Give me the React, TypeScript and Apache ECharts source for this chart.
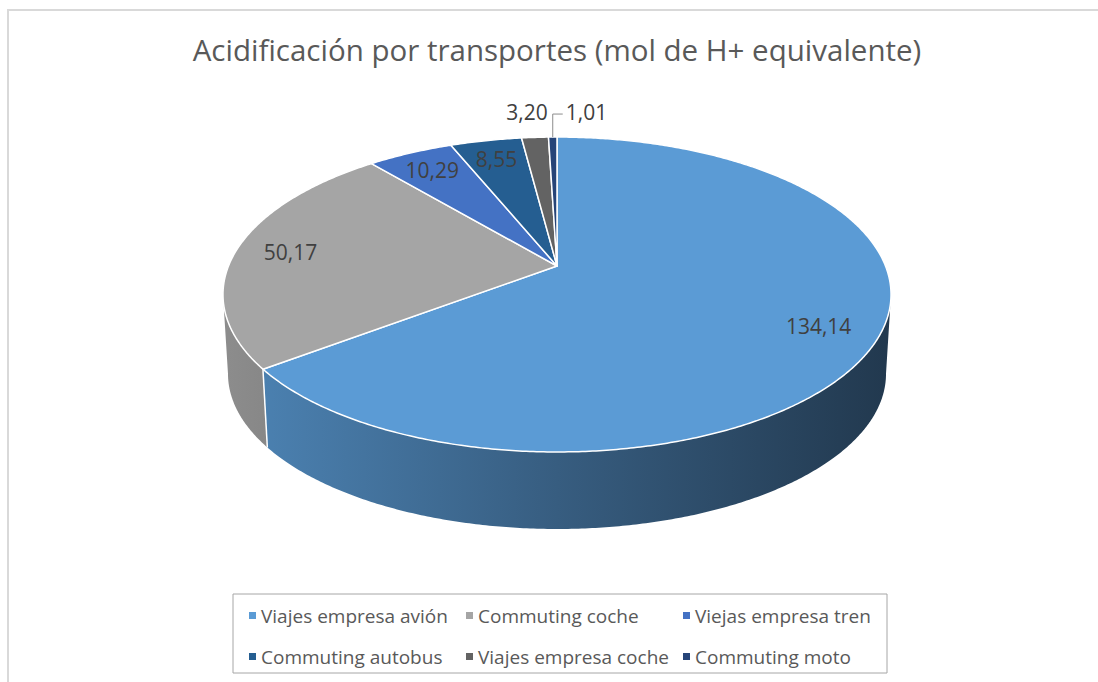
import React, { useEffect, useRef } from 'react';
import * as echarts from 'echarts';

const TITLE = 'Acidificación por transportes (mol de H+ equivalente)';
const CATEGORIES = [
  'Viajes empresa avión',
  'Commuting coche',
  'Viejas empresa tren',
  'Commuting autobus',
  'Viajes empresa coche',
  'Commuting moto',
];
const VALUES = [134.14, 50.17, 10.29, 8.55, 3.2, 1.01];
const COLORS = ['#5B9BD5', '#A5A5A5', '#4472C4', '#255E91', '#636363', '#264478'];

const FONT = '"Open Sans", "Noto Sans", sans-serif';

// 3D pie geometry (perspective-projected disk)
const CX = 557;
const CY = 266;
const RX = 328.5;
const RY = 152.3;
const PERSP = 0.181;
const BOTTOM_SCALE = 0.985;
const DEPTH = 79.8;
const LABEL_R = 0.83;

const TOTAL = VALUES.reduce((a, b) => a + b, 0);
const STARTS = VALUES.map((_, i) => VALUES.slice(0, i).reduce((a, b) => a + b, 0));

function proj(deg: number, r: number, bottom: boolean): number[] {
  const t = (deg * Math.PI) / 180;
  const u = r * Math.sin(t);
  const v = -r * Math.cos(t);
  const den = 1 - PERSP * v;
  if (bottom) {
    return [CX + (RX * BOTTOM_SCALE * u) / den, CY + (RY * BOTTOM_SCALE * v) / den + DEPTH];
  }
  return [CX + (RX * u) / den, CY + (RY * v) / den];
}

function shade(hex: string, f: number): string {
  const h = hex.replace('#', '');
  const r = Math.round(parseInt(h.slice(0, 2), 16) * f);
  const g = Math.round(parseInt(h.slice(2, 4), 16) * f);
  const b = Math.round(parseInt(h.slice(4, 6), 16) * f);
  return `rgb(${r},${g},${b})`;
}

function fmt(v: number): string {
  return v.toFixed(2).replace('.', ',');
}

function renderSlice(params: any, api: any) {
  const i = params.seriesIndex;
  const value = api.value(0);
  const a0 = (STARTS[i] / TOTAL) * 360;
  const a1 = a0 + (value / TOTAL) * 360;
  const children: any[] = [];

  // top face
  const pts: number[][] = [[CX, CY]];
  const n = Math.max(4, Math.ceil((a1 - a0) * 2));
  for (let k = 0; k <= n; k++) pts.push(proj(a0 + ((a1 - a0) * k) / n, 1, false));
  children.push({
    type: 'polygon',
    shape: { points: pts },
    style: { fill: COLORS[i], stroke: '#ffffff', lineWidth: 1.5, lineJoin: 'round' },
    z2: 10,
  });

  // side wall (visible front part)
  const vs = (Math.acos(-PERSP) * 180) / Math.PI;
  const ve = 360 - vs;
  const w0 = Math.max(a0, vs);
  const w1 = Math.min(a1, ve);
  if (w1 > w0) {
    const wp: number[][] = [];
    const m = Math.max(4, Math.ceil((w1 - w0) * 2));
    for (let k = 0; k <= m; k++) wp.push(proj(w0 + ((w1 - w0) * k) / m, 1, false));
    for (let k = m; k >= 0; k--) wp.push(proj(w0 + ((w1 - w0) * k) / m, 1, true));
    children.push({
      type: 'polygon',
      shape: { points: wp },
      style: {
        fill: new echarts.graphic.LinearGradient(
          CX - RX,
          0,
          CX + RX,
          0,
          [
            { offset: 0, color: shade(COLORS[i], 0.85) },
            { offset: 0.5, color: shade(COLORS[i], 0.6) },
            { offset: 1, color: shade(COLORS[i], 0.37) },
          ],
          true
        ),
      },
      z2: 1,
    });
    if (a0 > vs && a0 < ve) {
      const p = proj(a0, 1, false);
      const q = proj(a0, 1, true);
      children.push({
        type: 'line',
        shape: { x1: p[0], y1: p[1], x2: q[0], y2: q[1] },
        style: { stroke: '#ffffff', lineWidth: 1.5 },
        z2: 2,
      });
    }
  }

  // data label
  const mid = (a0 + a1) / 2;
  const frac = value / TOTAL;
  const labelStyle = { fill: '#404040', fontSize: 21, fontFamily: FONT };
  if (frac >= 0.03) {
    const p = proj(mid, LABEL_R, false);
    children.push({
      type: 'text',
      x: p[0],
      y: p[1],
      style: { ...labelStyle, text: fmt(value), align: 'center', verticalAlign: 'middle' },
      z2: 20,
    });
  } else if (i === VALUES.length - 1) {
    const p = proj(mid, 1, false);
    children.push({
      type: 'polyline',
      shape: { points: [[p[0], p[1]], [p[0], p[1] - 23], [p[0] + 10, p[1] - 23]] },
      style: { stroke: '#8c8c8c', lineWidth: 1, fill: 'none' },
      z2: 20,
    });
    children.push({
      type: 'text',
      x: p[0] + 13,
      y: p[1] - 25,
      style: { ...labelStyle, text: fmt(value), align: 'left', verticalAlign: 'middle' },
      z2: 20,
    });
  } else {
    const p = proj(mid, 1, false);
    children.push({
      type: 'text',
      x: p[0] - 8,
      y: p[1] - 25,
      style: { ...labelStyle, text: fmt(value), align: 'center', verticalAlign: 'middle' },
      z2: 20,
    });
  }

  return { type: 'group', children };
}

export default function App() {
  const ref = useRef<HTMLDivElement>(null);

  useEffect(() => {
    if (!ref.current) return;
    const chart = echarts.init(ref.current, undefined, { renderer: 'svg' });
    chart.setOption({
      animation: false,
      backgroundColor: '#ffffff',
      color: COLORS,
      title: {
        text: TITLE,
        left: 557,
        top: 49,
        padding: 0,
        textAlign: 'center',
        textVerticalAlign: 'middle',
        textStyle: { fontFamily: FONT, fontSize: 29.5, fontWeight: 'normal', color: '#595959' },
      },
      legend: {
        data: CATEGORIES,
        left: 233,
        top: 594,
        width: 645,
        orient: 'horizontal',
        padding: [8, 1, 3, 16],
        itemWidth: 7,
        itemHeight: 7,
        itemGap: 14,
        icon: 'rect',
        borderColor: '#a6a6a6',
        borderWidth: 1,
        selectedMode: false,
        textStyle: { fontFamily: FONT, fontSize: 19, color: '#595959', width: 191, lineHeight: 27 },
      },
      graphic: [
        {
          type: 'rect',
          shape: { x: 8, y: 10, width: 1200, height: 800 },
          style: { fill: 'none', stroke: '#d9d9d9', lineWidth: 2 },
          silent: true,
          z: -1,
        },
      ],
      series: VALUES.map((v, i) => ({
        type: 'custom',
        name: CATEGORIES[i],
        coordinateSystem: 'none',
        renderItem: renderSlice,
        data: [[v]],
        itemStyle: { color: COLORS[i] },
        silent: true,
      })),
    });
    return () => chart.dispose();
  }, []);

  return (
    <div
      ref={ref}
      style={{ position: 'fixed', left: 0, top: 0, width: 1098, height: 682 }}
    />
  );
}
